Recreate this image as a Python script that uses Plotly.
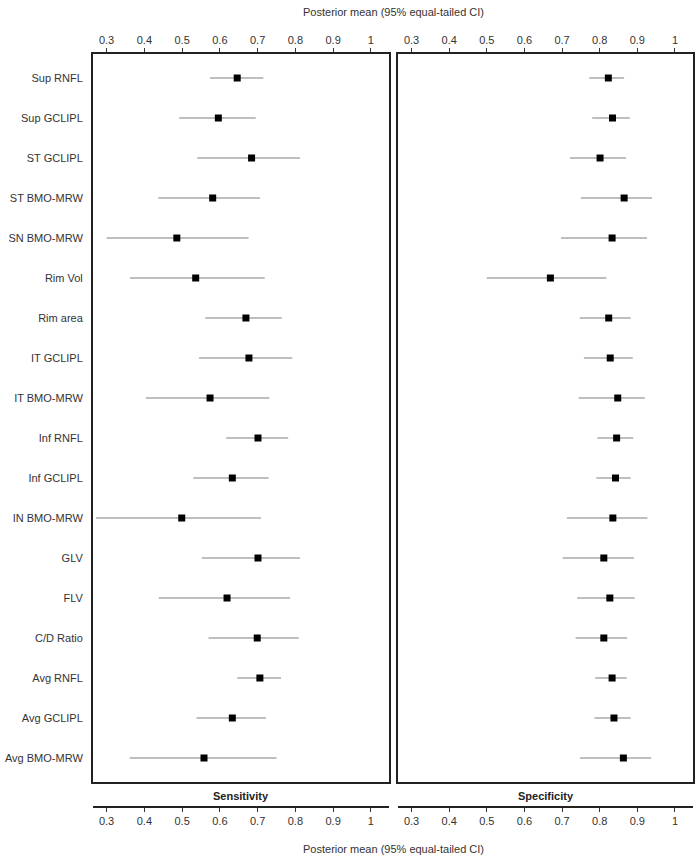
import plotly.graph_objects as go

measures = ["Sup RNFL", "Sup GCLIPL", "ST GCLIPL", "ST BMO-MRW", "SN BMO-MRW", "Rim Vol",
            "Rim area", "IT GCLIPL", "IT BMO-MRW", "Inf RNFL", "Inf GCLIPL", "IN BMO-MRW",
            "GLV", "FLV", "C/D Ratio", "Avg RNFL", "Avg GCLIPL", "Avg BMO-MRW"]

sens_mean = [0.646, 0.596, 0.684, 0.581, 0.486, 0.536, 0.669, 0.677, 0.574, 0.701, 0.633, 0.499,
             0.701, 0.619, 0.699, 0.706, 0.633, 0.558]
sens_lo = [0.574, 0.492, 0.540, 0.437, 0.300, 0.362, 0.561, 0.545, 0.404, 0.617, 0.530, 0.272,
           0.552, 0.438, 0.570, 0.646, 0.538, 0.361]
sens_hi = [0.715, 0.695, 0.812, 0.706, 0.676, 0.719, 0.764, 0.792, 0.731, 0.781, 0.729, 0.709,
           0.812, 0.786, 0.809, 0.762, 0.722, 0.750]

spec_mean = [0.823, 0.834, 0.801, 0.865, 0.833, 0.669, 0.824, 0.828, 0.848, 0.845, 0.842, 0.835,
             0.811, 0.827, 0.811, 0.833, 0.838, 0.863]
spec_lo = [0.772, 0.780, 0.721, 0.750, 0.697, 0.500, 0.747, 0.758, 0.744, 0.794, 0.791, 0.713,
           0.702, 0.740, 0.736, 0.788, 0.786, 0.748]
spec_hi = [0.865, 0.880, 0.870, 0.939, 0.926, 0.818, 0.882, 0.888, 0.920, 0.889, 0.882, 0.927,
           0.891, 0.893, 0.873, 0.872, 0.882, 0.937]

tick_vals = [0.3, 0.4, 0.5, 0.6, 0.7, 0.8, 0.9, 1.0]
tick_text = ["0.3", "0.4", "0.5", "0.6", "0.7", "0.8", "0.9", "1"]

panel_titles = ["Sensitivity", "Specificity"]
axis_title = "Posterior mean (95% equal-tailed CI)"

W, H = 695, 861
FONT = "Liberation Sans, Arial, sans-serif"
XR = [0.264, 1.048]
YR = [17.6, -0.6]

def px_x(p):
    return p / W

def px_y(p):
    return 1 - p / H

fig = go.Figure()

for i, (m, lo, hi) in enumerate([(sens_mean, sens_lo, sens_hi), (spec_mean, spec_lo, spec_hi)]):
    xa = "x" if i == 0 else "x2"
    ya = "y" if i == 0 else "y2"
    fig.add_trace(go.Scatter(
        x=m, y=measures, mode="markers",
        marker=dict(symbol="square", size=7, color="black"),
        error_x=dict(type="data", symmetric=False,
                     array=[h - v for h, v in zip(hi, m)],
                     arrayminus=[v - l for v, l in zip(m, lo)],
                     color="#7f7f7f", thickness=1, width=0),
        xaxis=xa, yaxis=ya, showlegend=False, hoverinfo="skip"))

# invisible traces for bottom axes
fig.add_trace(go.Scatter(x=[0.5], y=[measures[0]], mode="markers", marker=dict(opacity=0),
                         xaxis="x3", yaxis="y", showlegend=False, hoverinfo="skip"))
fig.add_trace(go.Scatter(x=[0.5], y=[measures[0]], mode="markers", marker=dict(opacity=0),
                         xaxis="x4", yaxis="y2", showlegend=False, hoverinfo="skip"))

dom_left = [px_x(93), px_x(389)]
dom_right = [px_x(398), px_x(693)]
dom_y = [px_y(782), px_y(54)]

tickfont = dict(family=FONT, size=11, color="#333333")

def xaxis_top(domain, anchor):
    return dict(domain=domain, range=XR, side="top", anchor=anchor,
                tickvals=tick_vals, ticktext=tick_text, ticks="outside", ticklen=4,
                tickcolor="#333333", tickwidth=1, showline=True, linecolor="#222222",
                linewidth=2, mirror=True, showgrid=False, zeroline=False,
                tickfont=tickfont)

def xaxis_bottom(domain, over):
    return dict(domain=domain, range=XR, side="bottom", anchor="free", overlaying=over,
                position=px_y(807), tickvals=tick_vals, ticktext=tick_text,
                ticks="outside", ticklen=4, tickcolor="#333333", tickwidth=1,
                showline=True, linecolor="#222222", linewidth=2, showgrid=False,
                zeroline=False, tickfont=tickfont)

def yaxis(anchor, labels):
    return dict(domain=dom_y, anchor=anchor, type="category", categoryarray=measures,
                range=YR, showline=True, linecolor="#222222", linewidth=2, mirror=True,
                ticks="", showgrid=False, zeroline=False, showticklabels=labels,
                ticklabelstandoff=6, tickfont=tickfont)

fig.update_layout(
    width=W, height=H,
    margin=dict(l=0, r=0, t=0, b=0),
    paper_bgcolor="white", plot_bgcolor="white",
    font=dict(family=FONT, size=11, color="#333333"),
    xaxis=xaxis_top(dom_left, "y"),
    xaxis2=xaxis_top(dom_right, "y2"),
    xaxis3=xaxis_bottom(dom_left, "x"),
    xaxis4=xaxis_bottom(dom_right, "x2"),
    yaxis=yaxis("x", True),
    yaxis2=yaxis("x2", False),
)

annotations = [
    dict(text=axis_title, x=px_x(393), y=px_y(12), xref="paper", yref="paper",
         showarrow=False, font=dict(family=FONT, size=11, color="#333333"),
         xanchor="center", yanchor="middle"),
    dict(text=axis_title, x=px_x(393), y=px_y(849), xref="paper", yref="paper",
         showarrow=False, font=dict(family=FONT, size=11, color="#333333"),
         xanchor="center", yanchor="middle"),
    dict(text="<b>" + panel_titles[0] + "</b>", x=(dom_left[0] + dom_left[1]) / 2,
         y=px_y(796), xref="paper", yref="paper", showarrow=False,
         font=dict(family=FONT, size=11, color="#222222"), xanchor="center", yanchor="middle"),
    dict(text="<b>" + panel_titles[1] + "</b>", x=(dom_right[0] + dom_right[1]) / 2,
         y=px_y(796), xref="paper", yref="paper", showarrow=False,
         font=dict(family=FONT, size=11, color="#222222"), xanchor="center", yanchor="middle"),
]
fig.update_layout(annotations=annotations)

fig.write_html("out.html")
